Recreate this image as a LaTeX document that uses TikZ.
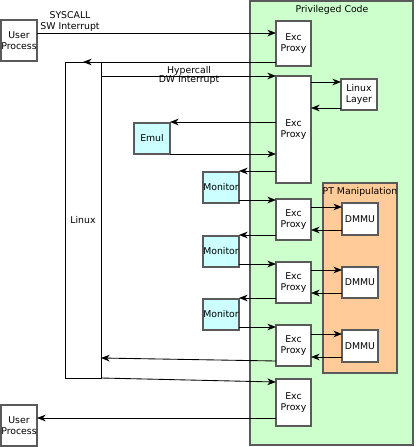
\documentclass[tikz,border=0pt]{standalone}
\usepackage{fontspec}
\setmainfont{DejaVu Sans}
\usetikzlibrary{arrows.meta}
\definecolor{privgreen}{RGB}{204,255,204}
\definecolor{emcyan}{RGB}{204,255,255}
\definecolor{ptorange}{RGB}{255,204,153}
\definecolor{bordergray}{RGB}{90,90,90}
\newcommand{\bx}[7]{\node[#6, anchor=north west, minimum width={(#4-#2)*0.75pt}, minimum height={(#5-#3)*0.75pt}] (#1) at (#2,#3) {#7};}
\tikzset{
  box/.style={draw=bordergray, line width=0.8pt, fill=white, inner sep=0pt, outer sep=0pt, align=center, font=\fontsize{7}{8.3}\selectfont},
  cbox/.style={box, fill=emcyan},
  region/.style={draw=bordergray, line width=0.8pt, inner sep=0pt, outer sep=0pt},
  arr/.style={draw=black, line width=0.65pt, -{Stealth[length=6.5pt,width=5pt,inset=2pt]}},
  ln/.style={draw=black, line width=0.65pt},
  lbl/.style={font=\fontsize{7}{8.3}\selectfont, align=center, inner sep=0pt}
}
\begin{document}
\begin{tikzpicture}[x=0.75pt,y=-0.75pt]
\useasboundingbox (0,0) rectangle (415,447);
% regions
\bx{priv}{250}{1}{413}{445}{region, fill=privgreen}{}
\node[lbl] (privlbl) at (332,10) {Privileged Code};
\bx{pt}{323}{183}{397}{373}{region, fill=ptorange}{}
\node[lbl] (ptlbl) at (360,192) {PT Manipulation};
% left boxes
\bx{user1}{1}{20}{37}{61}{box}{User\\Process}
\bx{user2}{1}{405}{37}{446}{box}{User\\Process}
\bx{linux}{65}{62}{101}{378}{box, draw=black, line width=0.65pt}{Linux}
\bx{emul}{134}{123}{170}{154}{cbox}{Emul}
\bx{mon1}{203}{172}{239}{203}{cbox}{Monitor}
\bx{mon2}{203}{236}{239}{267}{cbox}{Monitor}
\bx{mon3}{203}{299}{239}{330}{cbox}{Monitor}
% exception proxies
\bx{exc1}{276}{21}{311}{66}{box}{Exc\\Proxy}
\bx{exc2}{276}{76}{311}{183}{box}{Exc\\Proxy}
\bx{exc3}{276}{199}{311}{240}{box}{Exc\\Proxy}
\bx{exc4}{276}{262}{311}{303}{box}{Exc\\Proxy}
\bx{exc5}{276}{325}{311}{366}{box}{Exc\\Proxy}
\bx{exc6}{276}{379}{311}{426}{box}{Exc\\Proxy}
\bx{llayer}{341}{79}{377}{110}{box}{Linux\\Layer}
\bx{dmmu1}{342}{203}{378}{235}{box}{DMMU}
\bx{dmmu2}{342}{267}{378}{298}{box}{DMMU}
\bx{dmmu3}{342}{330}{378}{362}{box}{DMMU}
% connectors
\draw[arr] (user1.east |- 0,33) -- (exc1.west |- 0,33);
\node[lbl, anchor=south] (syslbl) at (70,32) {SYSCALL\\SW Interrupt};
\draw[ln] (exc1.west |- 0,62) -- (linux.north west);
\draw[arr] (exc1.west |- 0,62) -- (linux.north);
\draw[arr] (linux.east |- 0,76) -- (exc2.west |- 0,76);
\node[lbl] (hyplbl) at (189,75.5) {Hypercall\\[-1pt]DW Interrupt};
\draw[arr] (exc2.east |- 0,82) -- (llayer.west |- 0,82);
\draw[arr] (llayer.west |- 0,108) -- (exc2.east |- 0,108);
\draw[arr] (exc2.west |- 0,122) -- (emul.east |- 0,122);
\draw[arr] (emul.south east) -- (exc2.west |- emul.south east);
\draw[arr] (exc2.west |- 0,171) -- (mon1.east |- 0,171);
\draw[arr] (mon1.east |- 0,200) -- (exc3.west |- 0,200);
\draw[arr] (exc3.west |- 0,235) -- (mon2.east |- 0,235);
\draw[arr] (mon2.east |- 0,264) -- (exc4.west |- 0,264);
\draw[arr] (exc4.west |- 0,298) -- (mon3.east |- 0,298);
\draw[arr] (mon3.east |- 0,327) -- (exc5.west |- 0,327);
\draw[arr] (exc3.east |- 0,207) -- (dmmu1.west |- 0,207);
\draw[arr] (dmmu1.west |- 0,230) -- (exc3.east |- 0,230);
\draw[arr] (exc4.east |- 0,270) -- (dmmu2.west |- 0,270);
\draw[arr] (dmmu2.west |- 0,293) -- (exc4.east |- 0,293);
\draw[arr] (exc5.east |- 0,334) -- (dmmu3.west |- 0,334);
\draw[arr] (dmmu3.west |- 0,357) -- (exc5.east |- 0,357);
\draw[arr] (exc5.west |- 0,361) -- (linux.east |- 0,358);
\draw[arr] (linux.south east) -- (exc6.west |- 0,382);
\draw[arr] (exc6.west |- 0,418) -- (user2.east |- 0,418);
\end{tikzpicture}
\end{document}
